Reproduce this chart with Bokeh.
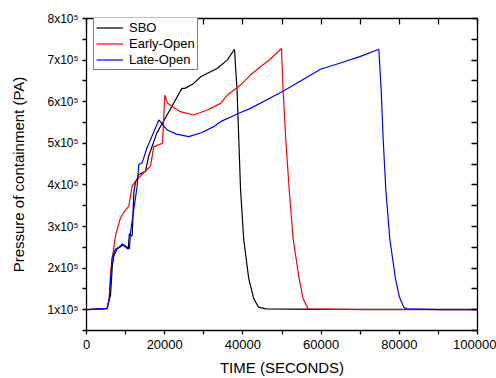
from bokeh.plotting import figure
from bokeh.models import (Range1d, FixedTicker, LinearAxis, Legend, LegendItem,
                          CustomLabelingPolicy)
from bokeh.embed import file_html
from bokeh.resources import INLINE

# ---------------- data (time in s, pressure in Pa) ----------------
sbo_t = [0, 5200, 5700, 6150, 6600, 7000, 7800, 9500, 10700, 10950, 11500, 11700,
         12100, 12500, 13400, 15100, 15900, 18000, 20600, 24400, 25200, 27400,
         29200, 33400, 36000, 37850, 38500, 38950, 39400, 40200, 41500, 42800,
         44000, 45800, 60000, 80000, 100000]
sbo_p = [1.0e5, 1.02e5, 1.2e5, 1.34e5, 2.06e5, 2.30e5, 2.46e5, 2.56e5, 2.48e5, 2.82e5,
         2.77e5, 2.80e5, 3.81e5, 4.05e5, 4.25e5, 4.33e5, 4.69e5, 5.25e5, 5.68e5,
         6.32e5, 6.32e5, 6.44e5, 6.60e5, 6.80e5, 7.00e5, 7.26e5, 6.28e5, 5.09e5,
         3.89e5, 2.70e5, 1.74e5, 1.26e5, 1.06e5, 1.02e5, 1.01e5, 1.01e5, 1.01e5]

early_t = [0, 5300, 5800, 6150, 6570, 7420, 8700, 9700, 10820, 11250, 11680, 12530,
           13380, 15520, 16370, 17200, 18080, 19450, 19750, 20030, 20700, 22300,
           24000, 27400, 30900, 34300, 36000, 39400, 41900, 44500, 47000, 49870,
           50280, 50970, 51840, 52850, 54400, 55420, 56700, 70000, 100000]
early_p = [1.0e5, 1.03e5, 1.25e5, 1.9e5, 2.22e5, 2.78e5, 3.21e5, 3.36e5, 3.49e5, 3.73e5,
           3.97e5, 4.09e5, 4.17e5, 4.37e5, 4.45e5, 4.92e5, 4.95e5, 5.00e5, 5.60e5,
           6.16e5, 5.97e5, 5.86e5, 5.76e5, 5.68e5, 5.80e5, 5.96e5, 6.16e5, 6.40e5,
           6.64e5, 6.84e5, 7.02e5, 7.28e5, 6.28e5, 5.09e5, 3.89e5, 2.70e5, 1.74e5,
           1.26e5, 1.02e5, 1.0e5, 1.0e5]

late_t = [0, 5300, 5800, 6300, 6570, 7420, 8300, 9120, 10400, 11000, 11250, 12100,
          12950, 13380, 14220, 15520, 18500, 20630, 23000, 26170, 29500, 32560,
          34270, 39400, 41940, 50030, 55170, 59850, 64960, 70080, 74760, 75370,
          75880, 76550, 77570, 79030, 80050, 81150, 81900, 90000, 100000]
late_p = [1.0e5, 1.03e5, 1.25e5, 1.9e5, 2.26e5, 2.46e5, 2.50e5, 2.58e5, 2.47e5, 2.47e5,
          2.86e5, 3.41e5, 3.97e5, 4.49e5, 4.53e5, 4.90e5, 5.56e5, 5.32e5, 5.22e5,
          5.16e5, 5.26e5, 5.40e5, 5.52e5, 5.74e5, 5.84e5, 6.24e5, 6.52e5, 6.78e5,
          6.93e5, 7.09e5, 7.26e5, 6.28e5, 5.09e5, 3.89e5, 2.70e5, 1.74e5, 1.30e5,
          1.06e5, 1.02e5, 1.0e5, 1.0e5]

series_names = ["SBO", "Early-Open", "Late-Open"]
series_colors = ["#000000", "#ff0000", "#0000ff"]

x_ticks = [0, 20000, 40000, 60000, 80000, 100000]
x_minor = [10000, 30000, 50000, 70000, 90000]
x_tick_labels = ["0", "20000", "40000", "60000", "80000", "100000"]
y_ticks = [1e5, 2e5, 3e5, 4e5, 5e5, 6e5, 7e5, 8e5]
y_minor = [0.5e5, 1.5e5, 2.5e5, 3.5e5, 4.5e5, 5.5e5, 6.5e5, 7.5e5]
y_tick_labels = ["1x10\u2075", "2x10\u2075", "3x10\u2075", "4x10\u2075",
                 "5x10\u2075", "6x10\u2075", "7x10\u2075", "8x10\u2075"]

FONT = "Liberation Sans"

p = figure(width=496, height=378, output_backend="svg", toolbar_location=None,
           x_range=Range1d(0, 100000), y_range=Range1d(0.5e5, 8e5),
           min_border_left=86, min_border_right=19, min_border_top=18,
           min_border_bottom=46, x_axis_label="TIME (SECONDS)",
           y_axis_label="Pressure of containment (PA)")
p.xgrid.visible = False
p.ygrid.visible = False
p.outline_line_color = None
p.background_fill_color = "white"
p.border_fill_color = "white"

renderers = []
for t, v, c in zip([sbo_t, early_t, late_t], [sbo_p, early_p, late_p], series_colors):
    renderers.append(p.line(t, v, line_color=c, line_width=1.2))

xa = p.xaxis[0]
xa.ticker = FixedTicker(ticks=x_ticks, minor_ticks=x_minor)
xa.major_label_overrides = {t: l for t, l in zip(x_ticks, x_tick_labels)}
ya = p.yaxis[0]
ya.ticker = FixedTicker(ticks=y_ticks, minor_ticks=y_minor)
ya.major_label_overrides = {t: l for t, l in zip(y_ticks, y_tick_labels)}

for ax in (xa, ya):
    ax.axis_line_width = 1.3
    ax.major_tick_line_width = 1.3
    ax.minor_tick_line_width = 1.3
    ax.major_tick_in = 0
    ax.major_tick_out = 4
    ax.minor_tick_in = 0
    ax.minor_tick_out = 4
    ax.major_label_text_font = FONT
    ax.major_label_text_color = "black"
    ax.axis_label_text_font = FONT
    ax.axis_label_text_font_style = "normal"
    ax.axis_label_text_font_size = "15px"
    ax.axis_label_text_color = "black"

xa.major_label_text_font_size = "13px"
xa.major_label_standoff = 5
xa.axis_label_standoff = 7
ya.major_label_text_font_size = "12px"
ya.major_label_standoff = 4
ya.axis_label_standoff = 18

# mirror axes (ticks pointing in, no labels)
top = LinearAxis(ticker=FixedTicker(ticks=x_ticks + x_minor))
right = LinearAxis(ticker=FixedTicker(ticks=y_ticks + y_minor))
for ax in (top, right):
    ax.axis_line_width = 1.3
    ax.major_tick_line_width = 1.3
    ax.major_tick_in = 6
    ax.major_tick_out = 0
    ax.minor_tick_line_color = None
    ax.major_label_text_font_size = "1px"
    ax.major_label_standoff = 0
    ax.major_label_policy = CustomLabelingPolicy(code="return new Set()")
p.add_layout(top, "above")
p.add_layout(right, "right")

legend = Legend(items=[LegendItem(label=n, renderers=[r]) for n, r in zip(series_names, renderers)],
                location=(7, 260), label_text_font=FONT, label_text_font_size="13px",
                label_text_color="black", border_line_color="black", border_line_width=1,
                background_fill_color="white", background_fill_alpha=1.0,
                padding=2, spacing=1, margin=0, glyph_width=27, glyph_height=15,
                label_height=15, label_standoff=6)
p.add_layout(legend)

open("out.html", "w").write(file_html(p, INLINE))
